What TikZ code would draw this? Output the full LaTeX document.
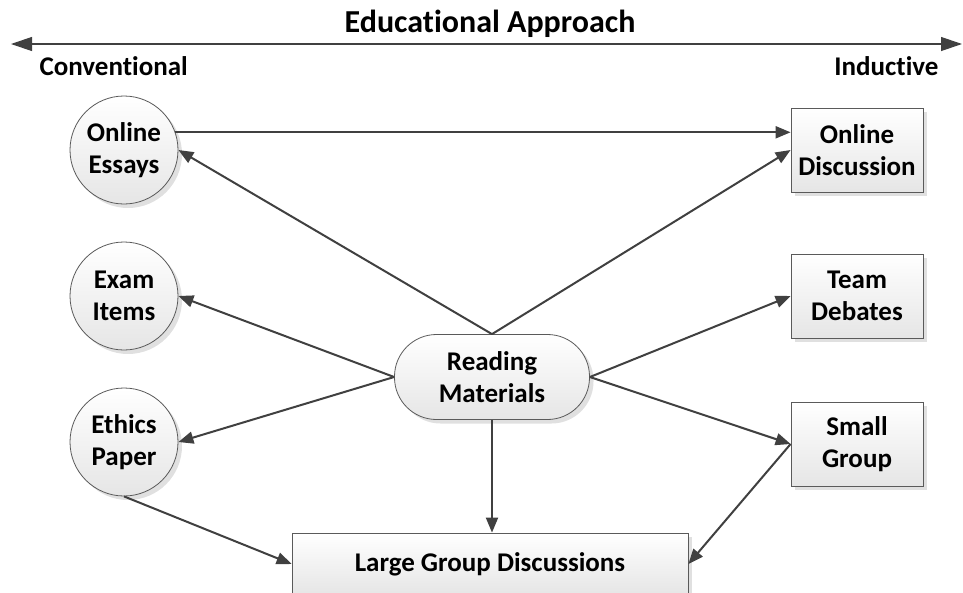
\documentclass[tikz,border=0pt]{standalone}
\usepackage{fontspec}
\setmainfont{Carlito}[Ligatures={NoCommon,NoContextual}, RawFeature={-liga;-clig;-dlig}]
\usetikzlibrary{arrows.meta,shadows}
\definecolor{linegray}{HTML}{404040}
\definecolor{edgegray}{HTML}{5A5A5A}
\tikzset{
  shapefill/.style={draw=edgegray, line width=0.8pt, top color=white, bottom color=black!10,
    drop shadow={shadow xshift=4pt, shadow yshift=-4pt, fill=black!12, opacity=1}},
  lbl/.style={font=\fontsize{27}{32}\selectfont\bfseries, align=center, text=black},
  methodcircle/.style={shapefill, lbl, circle, minimum size=108pt, inner sep=0pt},
  methodbox/.style={shapefill, lbl, rectangle, minimum width=132pt, minimum height=84pt, inner sep=0pt},
  link/.style={draw=linegray, line width=2pt, -{Triangle[length=15pt,width=12pt]}},
  approachaxis/.style={draw=linegray, line width=1.2pt, {Triangle[length=21pt,width=14pt]}-{Triangle[length=21pt,width=14pt]}}
}
\begin{document}
\begin{tikzpicture}[x=1pt,y=-1pt]
  \useasboundingbox (0,0) rectangle (963,592);

  % scale of educational approaches
  \coordinate (scl) at (11,44);
  \coordinate (scr) at (962,44);
  \draw[approachaxis] (scl) -- (scr);
  \node[lbl, font=\fontsize{32}{36}\selectfont\bfseries] (title) at (490,24) {Educational Approach};
  \node[lbl, anchor=west] (conv) at (36,66) {Conventional};
  \node[lbl, anchor=east] (ind) at (942,66) {Inductive};

  % conventional methods
  \node[methodcircle] (oe) at (124,150) {Online\\Essays};
  \node[methodcircle] (ei) at (124,296) {Exam\\Items};
  \node[methodcircle] (ep) at (124,442) {Ethics\\Paper};

  % inductive methods
  \node[methodbox] (od) at (857,150) {Online\\Discussion};
  \node[methodbox] (td) at (857,296) {Team\\Debates};
  \node[methodbox] (sg) at (857,444) {Small\\Group};

  % centre and bottom
  \node[shapefill, lbl, rectangle, rounded corners=42pt, minimum width=195pt, minimum height=85pt, inner sep=0pt]
    (rm) at (492,377) {Reading\\Materials};
  \node[shapefill, lbl, rectangle, minimum width=396pt, minimum height=62pt, inner sep=0pt]
    (lg) at (490,564) {Large Group Discussions};

  % connectors
  \draw[link] (oe.19.5) -- (od.west |- oe.19.5);
  \draw[link] (rm.north) -- (oe.east);
  \draw[link] (rm.north) -- (od.west);
  \draw[link] (rm.west) -- (ei.east);
  \draw[link] (rm.west) -- (ep.east);
  \draw[link] (rm.east) -- (td.west);
  \draw[link] (rm.east) -- (sg.west);
  \draw[link] (rm.south) -- (lg.north -| rm.south);
  \draw[link] (ep.south) -- (lg.west);
  \draw[link] (sg.west) -- (lg.east);
\end{tikzpicture}
\end{document}
